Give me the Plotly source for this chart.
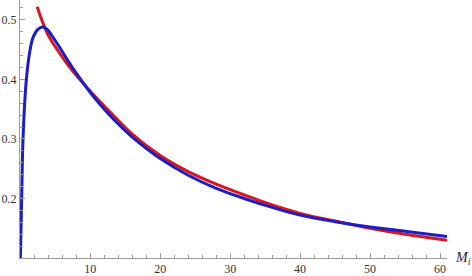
import plotly.graph_objects as go

# Red curve
red_x = [2.4, 3.9, 5.5, 7.0, 10.0, 13.0, 16.0, 20.0, 24.0, 28.0, 32.0, 36.0, 40.0, 45.0, 50.0, 55.0, 61.0]
red_y = [0.522, 0.476, 0.446, 0.421, 0.380, 0.343, 0.308, 0.272, 0.245, 0.224, 0.206, 0.189, 0.175, 0.162, 0.150, 0.140, 0.130]

# Blue curve
blue_x = [0.0, 0.19, 0.38, 0.86, 1.4, 1.8, 2.5, 3.2, 4.0, 4.7, 5.5, 7.0, 8.5, 10.0, 12.0, 14.0, 16.0,
          20.0, 24.0, 28.0, 32.0, 36.0, 40.0, 45.0, 50.0, 55.0, 61.0]
blue_y = [0.100, 0.200, 0.300, 0.400, 0.450, 0.470, 0.484, 0.488, 0.482, 0.470, 0.456, 0.428, 0.402, 0.378, 0.350, 0.325, 0.303,
          0.267, 0.239, 0.217, 0.200, 0.185, 0.172, 0.161, 0.152, 0.145, 0.136]

x_ticks = [10, 20, 30, 40, 50, 60]
y_ticks = [0.2, 0.3, 0.4, 0.5]
y_tick_labels = ["0.2", "0.3", "0.4", "0.5"]

fig = go.Figure()
fig.add_trace(go.Scatter(x=red_x, y=red_y, mode="lines", hoverinfo="skip",
                         line=dict(color="rgb(215,22,30)", width=3, shape="spline", smoothing=1.0)))
fig.add_trace(go.Scatter(x=blue_x, y=blue_y, mode="lines", hoverinfo="skip",
                         line=dict(color="rgb(28,28,200)", width=3, shape="spline", smoothing=1.0)))

axis_font = dict(family="Liberation Serif", size=12, color="#333")

fig.update_layout(
    width=472, height=276,
    margin=dict(l=20, r=25, t=0, b=16),
    plot_bgcolor="white", paper_bgcolor="white",
    showlegend=False,
    xaxis=dict(range=[-0.05, 61.0], showgrid=False, zeroline=True, zerolinecolor="#999", zerolinewidth=1,
               showline=True, linecolor="#999", linewidth=1,
               tickmode="array", tickvals=x_ticks, ticktext=[str(v) for v in x_ticks],
               ticks="inside", ticklen=5, tickcolor="#999", tickwidth=1,
               minor=dict(tickmode="linear", tick0=0, dtick=2, ticks="inside", ticklen=3, tickcolor="#999"),
               tickfont=axis_font),
    yaxis=dict(range=[0.1, 0.5333], showgrid=False, zeroline=False,
               showline=True, linecolor="#999", linewidth=1,
               tickmode="array", tickvals=y_ticks, ticktext=y_tick_labels,
               ticks="inside", ticklen=5, tickcolor="#999", tickwidth=1,
               minor=dict(tickmode="linear", tick0=0.1, dtick=0.02, ticks="inside", ticklen=3, tickcolor="#999"),
               tickfont=axis_font),
    annotations=[dict(xref="paper", yref="paper", x=1.015, y=0.0, xanchor="left", yanchor="middle",
                      text="<i>M<sub>i</sub></i>", showarrow=False,
                      font=dict(family="Liberation Serif", size=14, color="#222"))],
)

fig.write_html("out.html", config={"displayModeBar": False},
               post_script="document.body.style.margin='0';document.body.style.padding='0';")
